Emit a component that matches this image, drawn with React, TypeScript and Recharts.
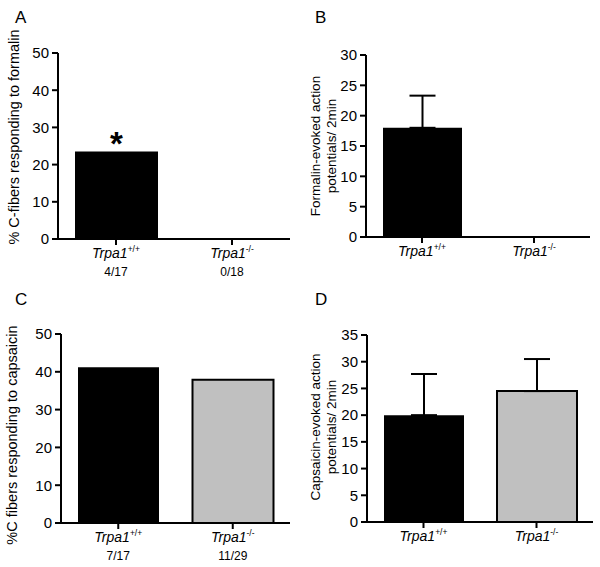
import React from 'react';
import { BarChart, Bar, XAxis, YAxis, ErrorBar, Cell, LabelList } from 'recharts';

// genotype labels
const genotypes = ['+/+', '-/-'];

// A: % C-fibers responding to formalin
const formalinPct = [23.5, 0];
const formalinCounts = ['4/17', '0/18'];
const formalinSig = ['*', ''];

// B: formalin-evoked APs / 2min (mean, +SEM)
const formalinAP = [18.0, 0];
const formalinAPErr = [5.3, 0];

// C: % C fibers responding to capsaicin
const capsPct = [41.2, 37.9];
const capsCounts = ['7/17', '11/29'];

// D: capsaicin-evoked APs / 2min
const capsAP = [20.0, 24.5];
const capsAPErr = [7.7, 6.0];

const FONT = '"Liberation Sans", Arial, sans-serif';
const fills = ['#000000', '#c0c0c0'];
const axisStyle = { stroke: '#000', strokeWidth: 2 };
const tickText = { fill: '#000', fontSize: 15, fontFamily: FONT };

const makeTick = (counts?: string[]) => (props: any) => {
  const { x, y, payload, index } = props;
  return (
    <g>
      <text x={x} y={y + 13} textAnchor="middle" fontFamily={FONT} fontSize={14} fill="#000">
        <tspan fontStyle="italic">Trpa1</tspan>
        <tspan dy={-6} fontSize={8.5}>{payload.value}</tspan>
      </text>
      {counts && (
        <text x={x} y={y + 31} textAnchor="middle" fontFamily={FONT} fontSize={12} fill="#000">
          {counts[index]}
        </text>
      )}
    </g>
  );
};

const SigLabel = (props: any) => {
  const { x, y, width, value } = props;
  if (!value) return null;
  return (
    <text x={x + width / 2} y={y + 3} textAnchor="middle" fontFamily={FONT} fontSize={33} fontWeight="bold" fill="#000">
      {value}
    </text>
  );
};

const Letter = ({ left, top, children }: any) => (
  <div style={{ position: 'absolute', left, top, fontFamily: FONT, fontSize: 17, lineHeight: '20px' }}>{children}</div>
);

const YTitle = ({ cx, cy, lines, size }: { cx: number; cy: number; lines: string[]; size: number }) => (
  <div
    style={{
      position: 'absolute',
      left: cx - 150,
      top: cy - 20,
      width: 300,
      height: 40,
      display: 'flex',
      flexDirection: 'column',
      justifyContent: 'center',
      alignItems: 'center',
      transform: 'rotate(-90deg)',
      fontFamily: FONT,
      fontSize: size,
      lineHeight: '16px',
      color: '#000',
      whiteSpace: 'nowrap',
    }}
  >
    {lines.map((l) => (
      <div key={l}>{l}</div>
    ))}
  </div>
);

interface PanelProps {
  left: number;
  top: number;
  height: number;
  margin: { top: number; right: number; left: number; bottom: number };
  yWidth: number;
  xHeight: number;
  yMax: number;
  yTicks: number[];
  barSize: number;
  data: any[];
  hasErr?: boolean;
  counts?: string[];
  sig?: boolean;
  outlineGrey?: boolean;
}

const Panel = (p: PanelProps) => (
  <div style={{ position: 'absolute', left: p.left, top: p.top }}>
    <BarChart width={300} height={p.height} data={p.data} margin={p.margin}>
      <XAxis
        dataKey="genotype"
        height={p.xHeight}
        axisLine={axisStyle}
        tickLine={axisStyle}
        tickSize={6}
        tickMargin={0}
        interval={0}
        tick={makeTick(p.counts)}
      />
      <YAxis
        width={p.yWidth}
        domain={[0, p.yMax]}
        ticks={p.yTicks}
        axisLine={axisStyle}
        tickLine={axisStyle}
        tickSize={6}
        tickMargin={3}
        tick={tickText}
        allowDataOverflow
      />
      <Bar dataKey="value" barSize={p.barSize} isAnimationActive={false}>
        {p.data.map((d, i) => (
          <Cell key={i} fill={fills[i]} stroke="#000" strokeWidth={i === 1 && p.outlineGrey ? 2 : 0} />
        ))}
        {p.hasErr && <ErrorBar dataKey="err" width={13} strokeWidth={2} stroke="#000" direction="y" />}
        {p.sig && <LabelList dataKey="sig" content={SigLabel} />}
      </Bar>
    </BarChart>
  </div>
);

const dataA = genotypes.map((g, i) => ({ genotype: g, value: formalinPct[i], sig: formalinSig[i] }));
const dataB = genotypes.map((g, i) => ({ genotype: g, value: formalinAP[i], err: [0, formalinAPErr[i]] }));
const dataC = genotypes.map((g, i) => ({ genotype: g, value: capsPct[i] }));
const dataD = genotypes.map((g, i) => ({ genotype: g, value: capsAP[i], err: [0, capsAPErr[i]] }));

export default function App() {
  return (
    <div style={{ position: 'absolute', left: 0, top: 0, width: 600, height: 567, background: '#fff', overflow: 'hidden' }}>
      <Panel
        left={0}
        top={0}
        height={283}
        margin={{ top: 53, right: 10, left: 0, bottom: 0 }}
        yWidth={58}
        xHeight={44}
        yMax={50}
        yTicks={[0, 10, 20, 30, 40, 50]}
        barSize={83}
        data={dataA}
        counts={formalinCounts}
        sig
      />
      <Panel
        left={300}
        top={0}
        height={283}
        margin={{ top: 55, right: 10, left: 0, bottom: 0 }}
        yWidth={66}
        xHeight={46}
        yMax={30}
        yTicks={[0, 5, 10, 15, 20, 25, 30]}
        barSize={79}
        data={dataB}
        hasErr
      />
      <Panel
        left={0}
        top={280}
        height={287}
        margin={{ top: 54, right: 10, left: 0, bottom: 0 }}
        yWidth={61}
        xHeight={44}
        yMax={50}
        yTicks={[0, 10, 20, 30, 40, 50]}
        barSize={81}
        data={dataC}
        counts={capsCounts}
        outlineGrey
      />
      <Panel
        left={300}
        top={280}
        height={287}
        margin={{ top: 55, right: 7, left: 0, bottom: 0 }}
        yWidth={67}
        xHeight={45}
        yMax={35}
        yTicks={[0, 5, 10, 15, 20, 25, 30, 35]}
        barSize={80}
        data={dataD}
        hasErr
        outlineGrey
      />
      <Letter left={15} top={8}>A</Letter>
      <Letter left={315} top={8}>B</Letter>
      <Letter left={15} top={290}>C</Letter>
      <Letter left={315} top={290}>D</Letter>
      <YTitle cx={14} cy={137} size={14.5} lines={['% C-fibers responding to formalin']} />
      <YTitle cx={324} cy={146} size={13.5} lines={['Formalin-evoked action', 'potentials/ 2min']} />
      <YTitle cx={12} cy={435} size={14.5} lines={['%C fibers responding to capsaicin']} />
      <YTitle cx={324} cy={427} size={13.5} lines={['Capsaicin-evoked action', 'potentials/ 2min']} />
    </div>
  );
}
